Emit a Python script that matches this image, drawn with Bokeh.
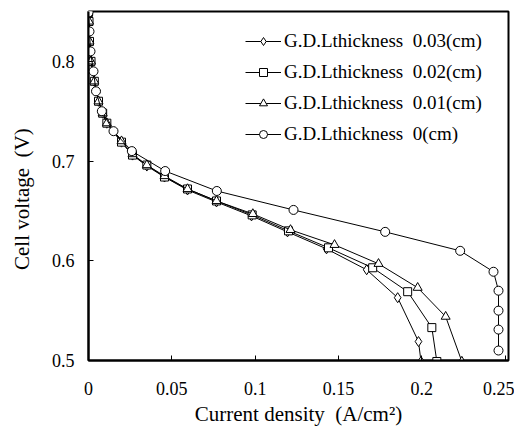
from bokeh.plotting import figure
from bokeh.models import Range1d, Legend, LegendItem, FixedTicker
from bokeh.embed import file_html
from bokeh.resources import INLINE

# Data
x_003 = [0.0, 0.0003, 0.0006, 0.0015, 0.0035, 0.006, 0.0085, 0.011, 0.0198, 0.0264, 0.035, 0.0456, 0.0594, 0.0768, 0.0978, 0.1194, 0.1428, 0.1669, 0.1855, 0.198, 0.1995]
y_003 = [0.849, 0.84, 0.82, 0.80, 0.78, 0.76, 0.748, 0.738, 0.719, 0.706, 0.695, 0.684, 0.671, 0.659, 0.645, 0.629, 0.612, 0.591, 0.563, 0.519, 0.499]

x_002 = [0.0, 0.0003, 0.0006, 0.0015, 0.0035, 0.006, 0.0085, 0.011, 0.0198, 0.0264, 0.035, 0.0456, 0.0594, 0.0768, 0.0982, 0.120, 0.144, 0.1705, 0.1915, 0.206, 0.209]
y_002 = [0.849, 0.84, 0.82, 0.80, 0.78, 0.76, 0.748, 0.738, 0.719, 0.706, 0.696, 0.684, 0.672, 0.660, 0.646, 0.630, 0.613, 0.593, 0.569, 0.533, 0.499]

x_001 = [0.0, 0.0003, 0.0006, 0.0015, 0.0035, 0.006, 0.0085, 0.011, 0.0198, 0.0264, 0.035, 0.0456, 0.0594, 0.0768, 0.0986, 0.1212, 0.1476, 0.174, 0.1975, 0.2143, 0.224]
y_001 = [0.849, 0.84, 0.82, 0.80, 0.78, 0.76, 0.748, 0.738, 0.720, 0.707, 0.696, 0.685, 0.672, 0.660, 0.647, 0.631, 0.616, 0.597, 0.573, 0.544, 0.499]

x_000 = [0.0, 0.0006, 0.0012, 0.003, 0.0045, 0.008, 0.015, 0.026, 0.046, 0.077, 0.123, 0.178, 0.223, 0.243, 0.246, 0.246, 0.246, 0.246]
y_000 = [0.849, 0.83, 0.81, 0.79, 0.77, 0.75, 0.73, 0.71, 0.69, 0.67, 0.651, 0.629, 0.61, 0.589, 0.57, 0.55, 0.531, 0.51]

labels = ["G.D.Lthickness\u00a0 0.03(cm)", "G.D.Lthickness\u00a0 0.02(cm)",
          "G.D.Lthickness\u00a0 0.01(cm)", "G.D.Lthickness\u00a0 0(cm)"]
x_ticks = [0, 0.05, 0.1, 0.15, 0.2, 0.25]
y_ticks = [0.5, 0.6, 0.7, 0.8]
x_title = "Current density\u00a0 (A/cm\u00b2)"
y_title = "Cell voltage\u00a0 (V)"

FONT = "Liberation Serif"

p = figure(width=514, height=425, output_backend="svg", toolbar_location=None,
           x_range=Range1d(0, 0.252), y_range=Range1d(0.5, 0.85),
           min_border_left=88, min_border_top=11, min_border_right=6, min_border_bottom=65)
p.frame_width = 420
p.frame_height = 349

p.xgrid.visible = False
p.ygrid.visible = False
p.outline_line_color = "black"
p.outline_line_width = 2
p.background_fill_color = "white"
p.border_fill_color = "white"

for ax in (p.xaxis[0], p.yaxis[0]):
    ax.axis_line_width = 2
    ax.axis_line_color = "black"
    ax.major_tick_in = 5
    ax.major_tick_out = 0
    ax.minor_tick_in = 0
    ax.minor_tick_out = 0
    ax.major_tick_line_width = 1
    ax.major_label_text_font = FONT
    ax.major_label_text_font_size = "18px"
    ax.major_label_text_color = "black"
    ax.axis_label_text_font = FONT
    ax.axis_label_text_font_size = "21px"
    ax.axis_label_text_font_style = "normal"
    ax.axis_label_text_color = "black"

p.xaxis.ticker = FixedTicker(ticks=x_ticks)
p.yaxis.ticker = FixedTicker(ticks=y_ticks)
p.xaxis.major_label_overrides = {0: "0", 0.05: "0.05", 0.1: "0.1", 0.15: "0.15", 0.2: "0.2", 0.25: "0.25"}
p.yaxis.major_label_overrides = {0.5: "0.5", 0.6: "0.6", 0.7: "0.7", 0.8: "0.8"}
p.xaxis.major_label_standoff = 21
p.yaxis.major_label_standoff = 14
p.xaxis.axis_label = x_title
p.xaxis.axis_label_standoff = 4
# trailing no-break spaces move the rotated title a little lower, as in the reference
p.yaxis.axis_label = y_title + "\u00a0" * 5
p.yaxis.axis_label_standoff = 15

series = [
    (x_003, y_003, "diamond", 10),
    (x_002, y_002, "square", 8),
    (x_001, y_001, "triangle", 9),
    (x_000, y_000, "circle", 9),
]
items = []
for (xs, ys, marker, size), lab in zip(series, labels):
    ln = p.line(xs, ys, line_color="black", line_width=1)
    sc = p.scatter(xs, ys, marker=marker, size=size, fill_color="white",
                   line_color="black", line_width=1)
    items.append(LegendItem(label=lab, renderers=[ln, sc]))

legend = Legend(items=items, location=(157, 215), orientation="vertical",
                label_text_font=FONT, label_text_font_size="19px",
                label_text_color="black",
                glyph_width=36, glyph_height=20, label_height=20, spacing=9,
                label_standoff=3, padding=0, margin=0,
                border_line_color=None, background_fill_alpha=0)
p.add_layout(legend, "center")

open("out.html", "w").write(file_html(p, INLINE))
